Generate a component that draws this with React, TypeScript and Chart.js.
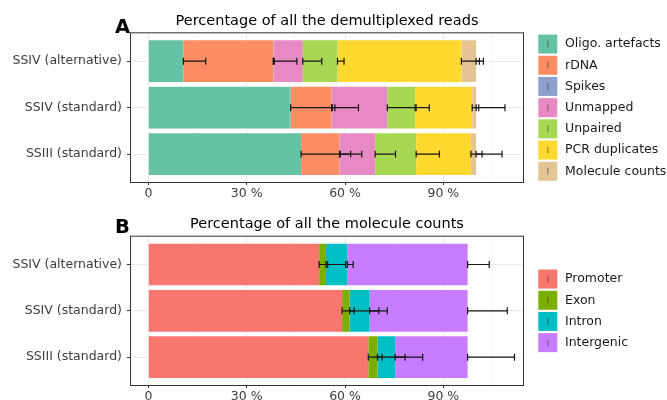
import React, { useEffect, useRef } from 'react';
import { Chart, registerables } from 'chart.js';

Chart.register(...registerables);

const FONT = "'DejaVu Sans', 'Liberation Sans', sans-serif";

const CATEGORIES = ['SSIV (alternative)', 'SSIV (standard)', 'SSIII (standard)'];

// Panel A – fate of demultiplexed reads (% of all reads), one value per category
const READ_CLASSES = ['Oligo. artefacts', 'rDNA', 'Spikes', 'Unmapped', 'Unpaired', 'PCR duplicates', 'Molecule counts'];
const READ_COLORS = ['#66C2A5', '#FC8D62', '#8DA0CB', '#E78AC3', '#A6D854', '#FFD92F', '#E5C494'];
const OLIGO = [10.7, 43.4, 46.6];
const RDNA = [27.4, 12.5, 11.7];
const SPIKES = [0.1, 0.1, 0.1];
const UNMAPPED = [8.9, 16.9, 10.8];
const UNPAIRED = [10.6, 8.5, 12.5];
const PCR_DUP = [37.8, 17.4, 16.7];
const MOLECULES = [4.5, 1.2, 1.6];
// standard deviations, drawn from the right end of each stacked segment
const OLIGO_SD = [6.8, 13.5, 15.1];
const RDNA_SD = [7.2, 8.2, 6.8];
const SPIKES_SD = [0.2, 0.1, 0.1];
const UNMAPPED_SD = [5.8, 8.8, 6.2];
const UNPAIRED_SD = [2.0, 4.3, 7.1];
const PCR_DUP_SD = [6.7, 10.0, 9.5];
const MOLECULES_SD = [1.0, 0.8, 1.8];

// Panel B – annotation of molecule counts (% of all molecule counts)
const FEATURES = ['Promoter', 'Exon', 'Intron', 'Intergenic'];
const FEATURE_COLORS = ['#F8766D', '#7CAE00', '#00BFC4', '#C77CFF'];
const PROMOTER = [52.1, 59.1, 67.1];
const EXON = [2.1, 2.3, 2.8];
const INTRON = [6.5, 6.1, 5.4];
const INTERGENIC = [36.7, 29.9, 22.1];
const PROMOTER_SD = [2.6, 3.7, 4.2];
const EXON_SD = [6.0, 8.9, 8.4];
const INTRON_SD = [1.8, 5.4, 8.4];
const INTERGENIC_SD = [6.6, 12.1, 14.3];

// x axis: grid every 15 %, labels every 30 %
const X_TICKS = [0, 15, 30, 45, 60, 75, 90, 105];
const X_LABEL_STEP = 30;
const X_MIN = -5.3;
const X_MAX = 114.3;

const READ_VALUES = [OLIGO, RDNA, SPIKES, UNMAPPED, UNPAIRED, PCR_DUP, MOLECULES];
const READ_SD = [OLIGO_SD, RDNA_SD, SPIKES_SD, UNMAPPED_SD, UNPAIRED_SD, PCR_DUP_SD, MOLECULES_SD];
const FEATURE_VALUES = [PROMOTER, EXON, INTRON, INTERGENIC];
const FEATURE_SD = [PROMOTER_SD, EXON_SD, INTRON_SD, INTERGENIC_SD];

const CANVAS_W = 667;
const CANVAS_H = 200;
const PANEL_LEFT = 131;
const PANEL_RIGHT = 523;
const ERRORBAR_WIDTH = 0.15; // in category units
const LEGEND_PITCH = 21.2;
const AXIS_TEXT = '#3d3d3d';

type PanelConfig = {
  title: string;
  tag: string;
  tagBaseline: number;
  top: number;
  bottom: number;
  labels: string[];
  colors: string[];
  values: number[][];
  sd: number[][];
};

const PANEL_A: PanelConfig = {
  title: 'Percentage of all the demultiplexed reads',
  tag: 'A',
  tagBaseline: 33,
  top: 33.3,
  bottom: 182,
  labels: READ_CLASSES,
  colors: READ_COLORS,
  values: READ_VALUES,
  sd: READ_SD,
};

const PANEL_B: PanelConfig = {
  title: 'Percentage of all the molecule counts',
  tag: 'B',
  tagBaseline: 32.7,
  top: 36.7,
  bottom: 185,
  labels: FEATURES,
  colors: FEATURE_COLORS,
  values: FEATURE_VALUES,
  sd: FEATURE_SD,
};

function makeDecor(cfg: PanelConfig) {
  return {
    id: 'panelDecor',
    afterDatasetsDraw(chart: any) {
      const { ctx } = chart;
      const xs = chart.scales.x;
      const ys = chart.scales.y;
      const sets = chart.data.datasets;
      ctx.save();
      ctx.strokeStyle = '#141414';
      ctx.lineWidth = 1.2;
      sets.forEach((ds: any, i: number) => {
        ds.data.forEach((pt: any, j: number) => {
          let end = 0;
          for (let k = 0; k <= i; k++) end += sets[k].data[j].x;
          const x0 = xs.getPixelForValue(end);
          const x1 = xs.getPixelForValue(end + ds.errors[j]);
          const yc = ys.getPixelForValue(pt.y);
          const half = Math.abs(ys.getPixelForValue(pt.y + ERRORBAR_WIDTH / 2) - yc);
          ctx.beginPath();
          ctx.moveTo(x0, yc);
          ctx.lineTo(x1, yc);
          ctx.moveTo(x0, yc - half);
          ctx.lineTo(x0, yc + half);
          ctx.moveTo(x1, yc - half);
          ctx.lineTo(x1, yc + half);
          ctx.stroke();
        });
      });
      ctx.restore();
    },
    afterDraw(chart: any) {
      const { ctx, chartArea: a } = chart;
      const sets = chart.data.datasets;
      ctx.save();

      // panel border
      ctx.strokeStyle = '#333333';
      ctx.lineWidth = 1;
      ctx.strokeRect(a.left - 0.5, a.top - 0.5, a.right - a.left + 1, a.bottom - a.top + 1);

      // title, centred over the panel
      ctx.fillStyle = '#000000';
      ctx.font = `14.5px ${FONT}`;
      ctx.textAlign = 'center';
      ctx.textBaseline = 'alphabetic';
      ctx.fillText(cfg.title, (a.left + a.right) / 2, a.top - 8.3);

      // panel tag
      ctx.font = `bold 19.5px ${FONT}`;
      ctx.textAlign = 'left';
      ctx.fillText(cfg.tag, 115, cfg.tagBaseline);

      // legend, vertically centred on the panel
      const n = sets.length;
      const mid = (a.top + a.bottom) / 2;
      ctx.font = `12.5px ${FONT}`;
      ctx.textBaseline = 'middle';
      sets.forEach((ds: any, k: number) => {
        const cy = mid + (k - (n - 1) / 2) * LEGEND_PITCH;
        const bx = a.right + 15.3;
        ctx.fillStyle = ds.backgroundColor;
        ctx.fillRect(bx, cy - 9.5, 19, 19);
        ctx.strokeStyle = 'rgba(40,40,40,0.55)';
        ctx.lineWidth = 1;
        ctx.beginPath();
        ctx.moveTo(bx + 9.5, cy - 3.3);
        ctx.lineTo(bx + 9.5, cy + 3.3);
        ctx.stroke();
        ctx.fillStyle = '#1a1a1a';
        ctx.fillText(ds.label, a.right + 42, cy);
      });
      ctx.restore();
    },
  };
}

function StackedPanel({ cfg }: { cfg: PanelConfig }) {
  const ref = useRef<HTMLCanvasElement | null>(null);

  useEffect(() => {
    if (!ref.current) return;
    const chart = new Chart(ref.current, {
      type: 'bar',
      data: {
        datasets: cfg.values.map((vals, i) => ({
          label: cfg.labels[i],
          backgroundColor: cfg.colors[i],
          borderWidth: 0,
          data: vals.map((v, j) => ({ x: v, y: j + 1 })),
          errors: cfg.sd[i],
        })) as any,
      },
      options: {
        responsive: false,
        animation: false,
        devicePixelRatio: 1,
        events: [],
        indexAxis: 'y',
        layout: { padding: { top: cfg.top, right: CANVAS_W - PANEL_RIGHT, left: 0, bottom: 0 } },
        datasets: { bar: { categoryPercentage: 1, barPercentage: 0.9 } },
        plugins: {
          legend: { display: false },
          tooltip: { enabled: false },
          title: { display: false },
        },
        scales: {
          x: {
            type: 'linear',
            stacked: true,
            offset: false,
            min: X_MIN,
            max: X_MAX,
            afterBuildTicks: (s: any) => {
              s.ticks = X_TICKS.map((v) => ({ value: v }));
            },
            afterFit: (s: any) => {
              s.height = CANVAS_H - cfg.bottom;
            },
            border: { display: false },
            grid: {
              offset: false,
              color: (c: any) => (c.tick && c.tick.value % X_LABEL_STEP === 0 ? '#EBEBEB' : '#F3F3F3'),
              lineWidth: (c: any) => (c.tick && c.tick.value % X_LABEL_STEP === 0 ? 1 : 0.6),
              tickColor: (c: any) => (c.tick && c.tick.value % X_LABEL_STEP === 0 ? '#333333' : 'rgba(0,0,0,0)'),
              tickLength: 3,
              tickWidth: 1,
            },
            ticks: {
              autoSkip: false,
              maxRotation: 0,
              padding: 1,
              color: AXIS_TEXT,
              font: { family: FONT, size: 12.5 },
              callback: (v: any) => (v % X_LABEL_STEP !== 0 ? '' : v === 0 ? '0' : `${v} %`),
            },
          },
          y: {
            type: 'linear',
            stacked: true,
            offset: false,
            min: 0.4,
            max: 3.6,
            reverse: true,
            afterBuildTicks: (s: any) => {
              s.ticks = CATEGORIES.map((_, i) => ({ value: i + 1 }));
            },
            afterFit: (s: any) => {
              s.width = PANEL_LEFT;
            },
            border: { display: false },
            grid: {
              offset: false,
              color: '#EBEBEB',
              lineWidth: 1,
              tickColor: '#333333',
              tickLength: 4,
              tickWidth: 1,
            },
            ticks: {
              autoSkip: false,
              padding: 5,
              color: AXIS_TEXT,
              font: { family: FONT, size: 12.5 },
              callback: (v: any) => CATEGORIES[Math.round(v) - 1] ?? '',
            },
          },
        },
      } as any,
      plugins: [makeDecor(cfg)],
    });
    return () => chart.destroy();
  }, [cfg]);

  return <canvas ref={ref} width={CANVAS_W} height={CANVAS_H} style={{ display: 'block' }} />;
}

export default function App() {
  return (
    <div style={{ position: 'absolute', left: 0, top: 0, width: CANVAS_W, height: 400, background: '#ffffff', overflow: 'hidden' }}>
      <div style={{ position: 'absolute', left: 0, top: 0 }}>
        <StackedPanel cfg={PANEL_A} />
      </div>
      <div style={{ position: 'absolute', left: 0, top: CANVAS_H }}>
        <StackedPanel cfg={PANEL_B} />
      </div>
    </div>
  );
}
